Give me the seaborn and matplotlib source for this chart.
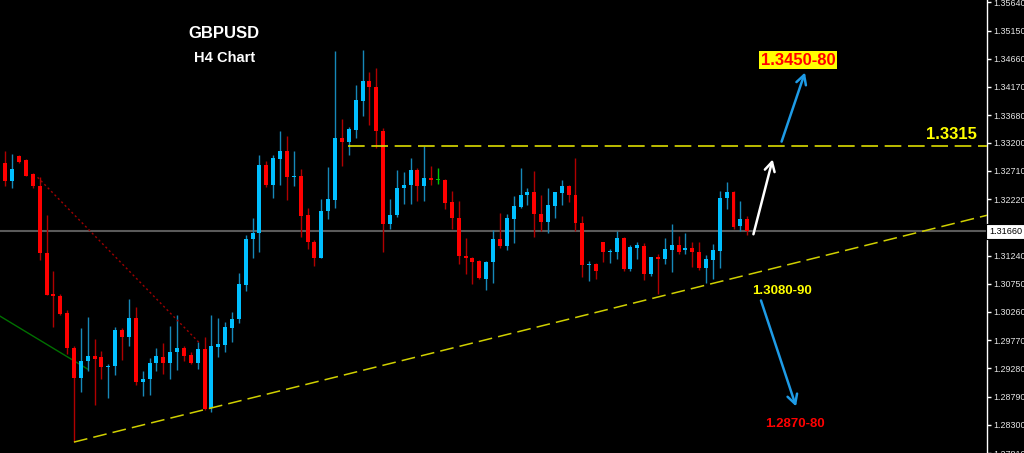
import matplotlib.pyplot as plt
import matplotlib.transforms as mtransforms
import numpy as np
import pandas as pd
import seaborn as sns

# H4 candles, oldest first
opens = [
    1.3278, 1.3285, 1.3253, 1.3297, 1.3290, 1.3266, 1.3245, 1.3128, 1.3058, 1.3054,
    1.3025, 1.2964, 1.2911, 1.2940, 1.2950, 1.2947, 1.2930, 1.2932, 1.2994, 1.2983,
    1.3016, 1.2904, 1.2909, 1.2937, 1.2948, 1.2937, 1.2956, 1.2964, 1.2952, 1.2937,
    1.2961, 1.2860, 1.2966, 1.2969, 1.2999, 1.3013, 1.3072, 1.3152, 1.3163, 1.3281,
    1.3247, 1.3292, 1.3306, 1.3260, 1.3262, 1.3194, 1.3148, 1.3120, 1.3202, 1.3220,
    1.3328, 1.3321, 1.3342, 1.3393, 1.3427, 1.3417, 1.3340, 1.3179, 1.3194, 1.3241,
    1.3246, 1.3273, 1.3244, 1.3259, 1.3255, 1.3256, 1.3217, 1.3190, 1.3124, 1.3120,
    1.3114, 1.3084, 1.3112, 1.3152, 1.3141, 1.3187, 1.3209, 1.3229, 1.3235, 1.3197,
    1.3182, 1.3210, 1.3233, 1.3245, 1.3229, 1.3181, 1.3107, 1.3109, 1.3147, 1.3130,
    1.3130, 1.3155, 1.3101, 1.3138, 1.3141, 1.3092, 1.3121, 1.3118, 1.3134, 1.3142,
    1.3134, 1.3138, 1.3131, 1.3102, 1.3117, 1.3132, 1.3224, 1.3235, 1.3176, 1.3188,
]
highs = [
    1.3289, 1.3305, 1.3301, 1.3299, 1.3291, 1.3268, 1.3260, 1.3194, 1.3097, 1.3057,
    1.3029, 1.2967, 1.2999, 1.3018, 1.2979, 1.2959, 1.2936, 1.3000, 1.2999, 1.3049,
    1.3034, 1.2923, 1.2946, 1.2963, 1.2972, 1.3001, 1.3021, 1.2967, 1.2956, 1.2973,
    1.2982, 1.3021, 1.3016, 1.3009, 1.3026, 1.3094, 1.3159, 1.3190, 1.3298, 1.3289,
    1.3299, 1.3341, 1.3331, 1.3306, 1.3275, 1.3206, 1.3151, 1.3222, 1.3278, 1.3479,
    1.3362, 1.3348, 1.3421, 1.3482, 1.3443, 1.3449, 1.3346, 1.3222, 1.3272, 1.3269,
    1.3294, 1.3276, 1.3315, 1.3279, 1.3276, 1.3257, 1.3237, 1.3218, 1.3154, 1.3122,
    1.3117, 1.3114, 1.3168, 1.3198, 1.3197, 1.3227, 1.3277, 1.3242, 1.3271, 1.3229,
    1.3242, 1.3235, 1.3255, 1.3246, 1.3293, 1.3193, 1.3115, 1.3111, 1.3148, 1.3136,
    1.3167, 1.3157, 1.3142, 1.3147, 1.3145, 1.3122, 1.3126, 1.3154, 1.3178, 1.3158,
    1.3163, 1.3147, 1.3147, 1.3125, 1.3144, 1.3237, 1.3251, 1.3236, 1.3219, 1.3193,
]
lows = [
    1.3275, 1.3244, 1.3242, 1.3285, 1.3263, 1.3242, 1.3116, 1.3056, 1.3000, 1.3021,
    1.2953, 1.2800, 1.2887, 1.2924, 1.2865, 1.2910, 1.2877, 1.2917, 1.2942, 1.2967,
    1.2899, 1.2880, 1.2882, 1.2924, 1.2918, 1.2910, 1.2926, 1.2940, 1.2935, 1.2927,
    1.2856, 1.2852, 1.2947, 1.2956, 1.2973, 1.3007, 1.3063, 1.3120, 1.3131, 1.3243,
    1.3224, 1.3246, 1.3221, 1.3244, 1.3157, 1.3135, 1.3106, 1.3119, 1.3187, 1.3207,
    1.3279, 1.3298, 1.3328, 1.3367, 1.3351, 1.3311, 1.3131, 1.3170, 1.3191, 1.3213,
    1.3213, 1.3218, 1.3218, 1.3247, 1.3249, 1.3205, 1.3171, 1.3109, 1.3092, 1.3074,
    1.3084, 1.3065, 1.3076, 1.3138, 1.3134, 1.3145, 1.3206, 1.3211, 1.3156, 1.3166,
    1.3164, 1.3190, 1.3211, 1.3217, 1.3166, 1.3086, 1.3080, 1.3084, 1.3113, 1.3111,
    1.3118, 1.3097, 1.3098, 1.3118, 1.3082, 1.3089, 1.3058, 1.3109, 1.3095, 1.3127,
    1.3127, 1.3105, 1.3099, 1.3076, 1.3083, 1.3103, 1.3205, 1.3170, 1.3167, 1.3159,
]
closes = [
    1.3286, 1.3253, 1.3274, 1.3286, 1.3263, 1.3244, 1.3128, 1.3056, 1.3053, 1.3023,
    1.2963, 1.2911, 1.2940, 1.2950, 1.2945, 1.2931, 1.2933, 1.2994, 1.2983, 1.3016,
    1.2904, 1.2910, 1.2938, 1.2949, 1.2937, 1.2957, 1.2964, 1.2950, 1.2937, 1.2961,
    1.2858, 1.2967, 1.2970, 1.3000, 1.3014, 1.3075, 1.3152, 1.3164, 1.3282, 1.3246,
    1.3293, 1.3306, 1.3260, 1.3263, 1.3192, 1.3147, 1.3120, 1.3202, 1.3222, 1.3328,
    1.3322, 1.3344, 1.3394, 1.3427, 1.3417, 1.3341, 1.3179, 1.3195, 1.3242, 1.3247,
    1.3273, 1.3244, 1.3258, 1.3255, 1.3255, 1.3216, 1.3190, 1.3124, 1.3120, 1.3113,
    1.3085, 1.3112, 1.3152, 1.3141, 1.3189, 1.3210, 1.3229, 1.3235, 1.3197, 1.3182,
    1.3211, 1.3235, 1.3245, 1.3229, 1.3180, 1.3107, 1.3110, 1.3098, 1.3130, 1.3131,
    1.3155, 1.3101, 1.3139, 1.3142, 1.3092, 1.3121, 1.3118, 1.3135, 1.3142, 1.3131,
    1.3138, 1.3131, 1.3102, 1.3118, 1.3133, 1.3224, 1.3235, 1.3174, 1.3187, 1.3166,
]

price_ticks = [
    1.35640, 1.35150, 1.34660, 1.34170, 1.33680, 1.33200, 1.32710, 1.32220, 1.31730,
    1.31240, 1.30750, 1.30260, 1.29770, 1.29280, 1.28790, 1.28300, 1.27810,
]
last_price = 1.31660

# drawn lines: (bar index, price) anchors
support_x = [11.0, 143.9]
support_y = [1.2800, 1.3194]
falling_x = [5.7, 29.2]
falling_y = [1.3260, 1.2973]
green_x = [0.2, 13.1]
green_y = [1.3019, 1.2926]
resistance = 1.3315
resistance_from = 50.9

# arrows: (tail, head) in (bar index, price)
arrows = [
    ((109.9, 1.3161), (112.7, 1.3291), "white"),
    ((114.0, 1.3322), (117.4, 1.3442), "#1e9be6"),
    ((111.0, 1.3046), (116.1, 1.2862), "#1e9be6"),
]

X_MIN, X_MAX = 0.23, 143.9
Y_MIN, Y_MAX = 1.27866, 1.3568

sns.set_theme(style="dark", rc={"axes.facecolor": "black", "figure.facecolor": "black"})
plt.rcParams["font.family"] = ["Liberation Sans", "DejaVu Sans"]

df = pd.DataFrame({"open": opens, "high": highs, "low": lows, "close": closes})
df["idx"] = np.arange(len(df))

fig = plt.figure(figsize=(10.24, 4.53), dpi=100, facecolor="black")
ax = fig.add_axes([0, 0, 987 / 1024, 1])
ax.set_facecolor("black")

bull = df["close"] > df["open"]
bear = df["close"] < df["open"]
body_col = np.where(bull, "#00bfff", np.where(bear, "#ff0000", "#00c800"))
wick_col = np.where(bull, "#1688b8", np.where(bear, "#b00000", "#00c800"))

ax.vlines(df["idx"], df["low"], df["high"], colors=wick_col, lw=1, zorder=2)
body_h = (df["close"] - df["open"]).abs().clip(lower=0.00012)
body_low = df[["open", "close"]].min(axis=1)
ax.bar(df["idx"], body_h, bottom=body_low, width=0.58, color=body_col,
       linewidth=0, zorder=3)

# current price line
ax.axhline(last_price, color="#5a5a5a", lw=1.5, zorder=1)

# trend lines
sns.lineplot(x=support_x, y=support_y, ax=ax, color="#d0d000", lw=1.1,
             linestyle=(0, (9, 4)), zorder=4)
sns.lineplot(x=falling_x, y=falling_y, ax=ax, color="#a00000", lw=1,
             linestyle=(0, (1.5, 2)), zorder=4)
sns.lineplot(x=green_x, y=green_y, ax=ax, color="#007000", lw=1, zorder=1)
ax.plot([resistance_from, X_MAX], [resistance, resistance], color="#dcdc00",
        lw=1.2, linestyle=(0, (10, 4)), zorder=4)

for tail, head, col in arrows:
    ax.annotate("", xy=head, xytext=tail,
                arrowprops=dict(arrowstyle="->,head_length=0.55,head_width=0.3",
                                color=col, lw=1.8, shrinkA=0, shrinkB=0),
                zorder=5)

# labels (baseline-aligned)
ax.text(0.227, 0.9155, "GBPUSD", transform=ax.transAxes, color="white",
        fontsize=12, fontweight="bold", ha="center", va="baseline")
ax.text(0.228, 0.8625, "H4 Chart", transform=ax.transAxes, color="white",
        fontsize=10.5, fontweight="bold", ha="center", va="baseline")
ax.text(116.4, 1.34559, "1.3450-80", color="#ff0000", fontsize=12,
        fontweight="bold", ha="center", va="baseline",
        bbox=dict(boxstyle="square,pad=0.1", fc="#ffff00", ec="none"))
ax.text(138.7, 1.3327, "1.3315", color="#ffff00", fontsize=12,
        fontweight="bold", ha="center", va="baseline")
ax.text(114.1, 1.30574, "1.3080-90", color="#ffff00", fontsize=9.5,
        fontweight="bold", ha="center", va="baseline")
ax.text(116.0, 1.28263, "1.2870-80", color="#ff0000", fontsize=9.5,
        fontweight="bold", ha="center", va="baseline")

# price axis on the right
ax.set_xlim(X_MIN, X_MAX)
ax.set_ylim(Y_MIN, Y_MAX)
ax.set_xticks([])
ax.yaxis.tick_right()
ax.set_yticks(price_ticks)
ax.set_yticklabels([f"{t:.5f}" for t in price_ticks])
ax.tick_params(axis="y", colors="white", labelcolor="#e6e6e6", labelsize=6.4,
               length=3, width=1, pad=1.5, direction="out")
ax.grid(False)
for side in ["left", "top", "bottom"]:
    ax.spines[side].set_visible(False)
ax.spines["right"].set_visible(True)
ax.spines["right"].set_color("white")
ax.spines["right"].set_linewidth(1)

trans = mtransforms.blended_transform_factory(ax.transAxes, ax.transData)
ax.text(1.002, last_price, f"{last_price:.5f}", transform=trans, color="black",
        fontsize=6.6, ha="left", va="center", zorder=10, clip_on=False,
        bbox=dict(boxstyle="square,pad=0.3", fc="white", ec="black", lw=0.8))

fig.savefig("out.png", dpi=100, facecolor="black")
